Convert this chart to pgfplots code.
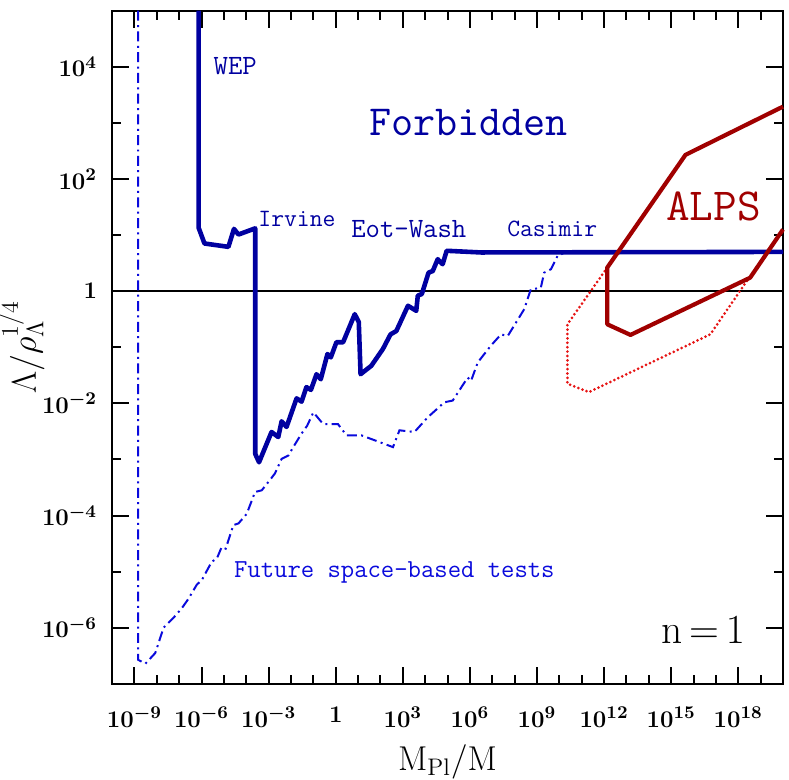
\documentclass[border=0pt]{standalone}
\usepackage{pgfplots}
\pgfplotsset{compat=1.18}
\definecolor{boundblue}{RGB}{0,0,160}
\definecolor{futblue}{RGB}{10,10,220}
\definecolor{textblue}{RGB}{0,0,160}
\definecolor{alpsred}{RGB}{160,0,0}
\definecolor{dotred}{RGB}{230,20,20}

% values
\pgfplotstableread{
x y
7.41e-7 1e5
7.41e-7 1.349e1
1.349e-6 7.079
1.585e-5 6.166
2.818e-5 1.288e1
4.467e-5 1.023e1
2.512e-4 1.318e1
2.512e-4 1.259e-3
3.715e-4 8.913e-4
1.349e-3 3.090e-3
2.692e-3 2.512e-3
3.802e-3 4.786e-3
6.310e-3 3.802e-3
1.778e-2 1.230e-2
2.951e-2 1.072e-2
4.898e-2 1.950e-2
7.762e-2 1.738e-2
1.380e-1 3.311e-2
2.138e-1 2.692e-2
4.266e-1 7.586e-2
6.026e-1 6.607e-2
1.072 1.230e-1
2.138 1.230e-1
7.079 3.890e-1
1.072e1 2.818e-1
1.288e1 3.311e-2
3.890e1 4.677e-2
1.288e2 9.333e-2
2.818e2 1.698e-1
5.129e2 1.950e-1
1.698e3 5.495e-1
3.981e3 4.467e-1
4.677e3 8.318e-1
7.079e3 8.913e-1
1.413e4 2.138
2.188e4 2.291
3.631e4 3.715
6.026e4 3.020
9.120e4 5.248
3.162e6 4.898
1e20 5.012
}\bound

\pgfplotstableread{
x y
1.445e-9 1e5
1.445e-9 2.692e-7
3.090e-9 2.291e-7
8.511e-9 3.548e-7
1.995e-8 1e-6
5.623e-8 1.514e-6
1.318e-7 2.239e-6
2.630e-7 3.311e-6
6.166e-7 5.888e-6
1.023e-6 7.079e-6
2.884e-6 1.514e-5
4.786e-6 1.698e-5
7.943e-6 2.754e-5
1.202e-5 2.570e-5
2.630e-5 6.761e-5
4.467e-5 7.244e-5
1.047e-4 1.072e-4
2.455e-4 2.630e-4
4.898e-4 2.818e-4
9.772e-4 3.981e-4
1.905e-3 5.623e-4
3.802e-3 1.023e-3
7.586e-3 1.175e-3
1.259e-2 1.660e-3
2.951e-2 2.884e-3
5.248e-2 3.981e-3
1e-1 6.918e-3
2.754e-1 4.266e-3
1.259 4.266e-3
3.020 2.692e-3
1.413e1 2.692e-3
3.631e2 1.660e-3
7.079e2 3.311e-3
3.311e3 3.090e-3
1.288e4 5.623e-3
7.244e4 1.047e-2
1.698e5 1.122e-2
7.943e5 2.884e-2
1.122e6 2.512e-2
2.239e6 5.370e-2
8.710e6 1.072e-1
2.455e7 1.698e-1
4.898e7 1.585e-1
2.692e8 4.786e-1
5.248e8 1.072
1.479e9 1.148
2.089e9 2.138
4.169e9 2.455
8.318e9 4.266
1.995e10 5.012
1e20 5.012
}\future

\pgfplotstableread{
x y
1e20 1.950e3
4.365e15 2.692e2
1.380e12 2.630
1.380e12 2.570e-1
1.514e13 1.660e-1
3.388e18 1.738
1e20 1.259e1
}\alps

\pgfplotstableread{
x y
1.380e12 2.630
2.291e10 2.570e-1
2.291e10 2.239e-2
2.089e11 1.585e-2
5.623e16 1.698e-1
2.399e18 1.514
3.388e18 1.738
}\alpsdot

\begin{document}
\begin{tikzpicture}
\begin{loglogaxis}[
    scale only axis,
    width=336.35pt, height=337.5pt,
    xmin=1e-10, xmax=1e20,
    ymin=1e-7, ymax=1e5,
    clip=false,
    xtick={1e-9,1e-6,1e-3,1,1e3,1e6,1e9,1e12,1e15,1e18},
    xticklabels={$10^{-9}$,$10^{-6}$,$10^{-3}$,$1$,$10^{3}$,$10^{6}$,$10^{9}$,$10^{12}$,$10^{15}$,$10^{18}$},
    minor xtick={1e-10,1e-8,1e-7,1e-5,1e-4,1e-2,1e-1,1e1,1e2,1e4,1e5,1e7,1e8,1e10,1e11,1e13,1e14,1e16,1e17,1e19},
    ytick={1e-6,1e-4,1e-2,1,1e2,1e4},
    yticklabels={$10^{-6}$,$10^{-4}$,$10^{-2}$,$1$,$10^{2}$,$10^{4}$},
    minor ytick={1e-7,1e-5,1e-3,1e-1,1e1,1e3},
    tick align=inside,
    major tick length=8.7pt, minor tick length=4.5pt,
    every tick/.style={black, line width=1pt},
    axis line style={line width=1.1pt},
    ticklabel style={font=\boldmath\fontsize{13}{13}\selectfont},
    xticklabel style={yshift=-8pt},
    yticklabel style={xshift=-4pt},
    xlabel={$\mathrm{M_{Pl}/M}$},
    ylabel={$\Lambda/\rho_\Lambda^{1/4}$},
    label style={font=\fontsize{17}{17}\selectfont, inner sep=0pt},
    xlabel style={at={(rel axis cs:0.5,-0.116)}, anchor=center},
    ylabel style={at={(rel axis cs:-0.134,0.5)}, anchor=center},
]
\addplot[black, line width=1pt] coordinates {(1e-10,1) (1e20,1)};
\addplot[futblue, line width=1pt, dash pattern=on 5pt off 2.2pt on 1pt off 2.2pt] table[x=x,y=y] {\future};
\addplot[boundblue, line width=2.3pt, line join=round] table[x=x,y=y] {\bound};
\addplot[dotred, line width=1.5pt, line cap=round, dash pattern=on 0pt off 2.2pt] table[x=x,y=y] {\alpsdot};
\addplot[alpsred, line width=2.1pt, line join=round] table[x=x,y=y] {\alps};

\node[textblue, anchor=base, font=\ttfamily\fontsize{14}{14}\selectfont] at (rel axis cs:0.1836,0.905) {WEP};
\node[textblue, anchor=base, font=\ttfamily\fontsize{21.5}{21.5}\selectfont] at (rel axis cs:0.5314,0.8148) {Forbidden};
\node[textblue, anchor=base, font=\ttfamily\fontsize{12.5}{12.5}\selectfont] at (rel axis cs:0.2755,0.680) {Irvine};
\node[textblue, anchor=base, font=\ttfamily\fontsize{14}{14}\selectfont] at (rel axis cs:0.4422,0.663) {Eot-Wash};
\node[textblue, anchor=base, font=\ttfamily\fontsize{12.5}{12.5}\selectfont] at (rel axis cs:0.656,0.6647) {Casimir};
\node[futblue, anchor=base, font=\ttfamily\fontsize{13}{13}\selectfont] at (rel axis cs:0.4207,0.158) {Future space-based tests};
\node[alpsred, anchor=base, font=\ttfamily\fontsize{23}{23}\selectfont] at (rel axis cs:0.8964,0.6879) {ALPS};
\node[black, anchor=base, font=\fontsize{20}{20}\selectfont] at (rel axis cs:0.8808,0.0607) {$\mathrm{n}\,{=}\,1$};

\path (rel axis cs:-0.16352,-0.13926) rectangle (rel axis cs:1.00892,1.01585);
\end{loglogaxis}
\end{tikzpicture}
\end{document}
